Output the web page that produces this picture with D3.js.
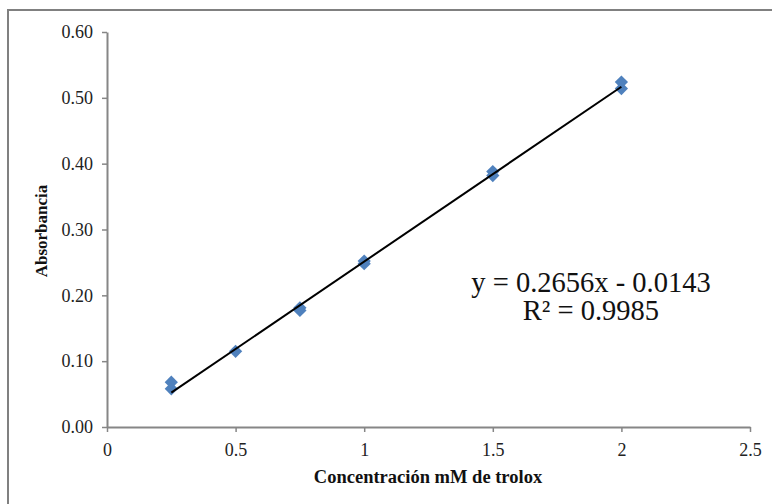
<!DOCTYPE html>
<html>
<head>
<meta charset="utf-8">
<script src="https://cdn.jsdelivr.net/npm/d3@7"></script>
<style>
  body { margin: 0; background: #fff; }
  svg { display: block; }
</style>
</head>
<body>
<svg id="chart" width="772" height="504"></svg>
<script>
// data
var concX = [0.25, 0.25, 0.5, 0.75, 0.75, 1, 1, 1.5, 1.5, 2, 2];
var absY  = [0.058, 0.068, 0.115, 0.177, 0.181, 0.248, 0.252, 0.382, 0.388, 0.514, 0.524];
var xTicks = [0, 0.5, 1, 1.5, 2, 2.5];
var yTicks = [0, 0.1, 0.2, 0.3, 0.4, 0.5, 0.6];
var slope = 0.2656, intercept = -0.0143;
var eqLines = ["y = 0.2656x - 0.0143", "R\u00b2 = 0.9985"];

var PLOT_L = 107, PLOT_R = 750, PLOT_T = 32, PLOT_B = 427;
var AXIS_COLOR = "#868686";
var MARKER_COLOR = "#4f81bd";
var SERIF = "'Liberation Serif', 'Times New Roman', serif";

var svg = d3.select("#chart");

// outer chart border (runs off the right and bottom edge)
svg.append("rect")
	.attr("x", 8).attr("y", 10)
	.attr("width", 800).attr("height", 520)
	.attr("fill", "none")
	.attr("stroke", "#808080")
	.attr("stroke-width", 2);

var x = d3.scaleLinear().domain([0, 2.5]).range([PLOT_L, PLOT_R]);
var y = d3.scaleLinear().domain([0, 0.6]).range([PLOT_B, PLOT_T]);

// y axis
var gy = svg.append("g")
	.attr("transform", "translate(" + PLOT_L + ",0)")
	.call(d3.axisLeft(y).tickValues(yTicks).tickFormat(d3.format(".2f")).tickSize(5).tickPadding(9).tickSizeOuter(0));

// x axis
var gx = svg.append("g")
	.attr("transform", "translate(0," + PLOT_B + ")")
	.call(d3.axisBottom(x).tickValues(xTicks).tickFormat(d3.format("")).tickSize(5).tickPadding(11).tickSizeOuter(0));

[gx, gy].forEach(function(g) {
	g.attr("font-family", SERIF).attr("font-size", 18);
	g.select(".domain").attr("stroke", AXIS_COLOR).attr("stroke-width", 2);
	g.selectAll(".tick line").attr("stroke", AXIS_COLOR).attr("stroke-width", 1.5);
	g.selectAll(".tick text").attr("fill", "#222").style("font-family", SERIF);
});

// axis titles
svg.append("text")
	.attr("x", 428)
	.attr("y", 483)
	.attr("text-anchor", "middle")
	.style("font-family", SERIF)
	.attr("font-weight", "bold")
	.attr("font-size", 18.5)
	.attr("fill", "#111")
	.text("Concentración mM de trolox");

svg.append("text")
	.attr("transform", "translate(47,231) rotate(-90)")
	.attr("text-anchor", "middle")
	.style("font-family", SERIF)
	.attr("font-weight", "bold")
	.attr("font-size", 17)
	.attr("fill", "#111")
	.text("Absorbancia");

// markers: square turned 45 degrees
var marker = d3.symbol().type(d3.symbolSquare).size(88);
svg.append("g").selectAll("path")
	.data(concX)
	.join("path")
	.attr("d", marker)
	.attr("transform", function(d, i) { return "translate(" + x(d) + "," + y(absY[i]) + ") rotate(45)"; })
	.attr("fill", MARKER_COLOR);

// linear trendline
var xMin = d3.min(concX), xMax = d3.max(concX);
svg.append("line")
	.attr("x1", x(xMin)).attr("y1", y(slope * xMin + intercept))
	.attr("x2", x(xMax)).attr("y2", y(slope * xMax + intercept))
	.attr("stroke", "#000")
	.attr("stroke-width", 2);

// equation label
svg.append("g").selectAll("text")
	.data(eqLines)
	.join("text")
	.attr("x", 591)
	.attr("y", function(d, i) { return 292 + i * 28; })
	.attr("text-anchor", "middle")
	.style("font-family", SERIF)
	.attr("font-size", 28.5)
	.attr("fill", "#111")
	.text(function(d) { return d; });
</script>
</body>
</html>
